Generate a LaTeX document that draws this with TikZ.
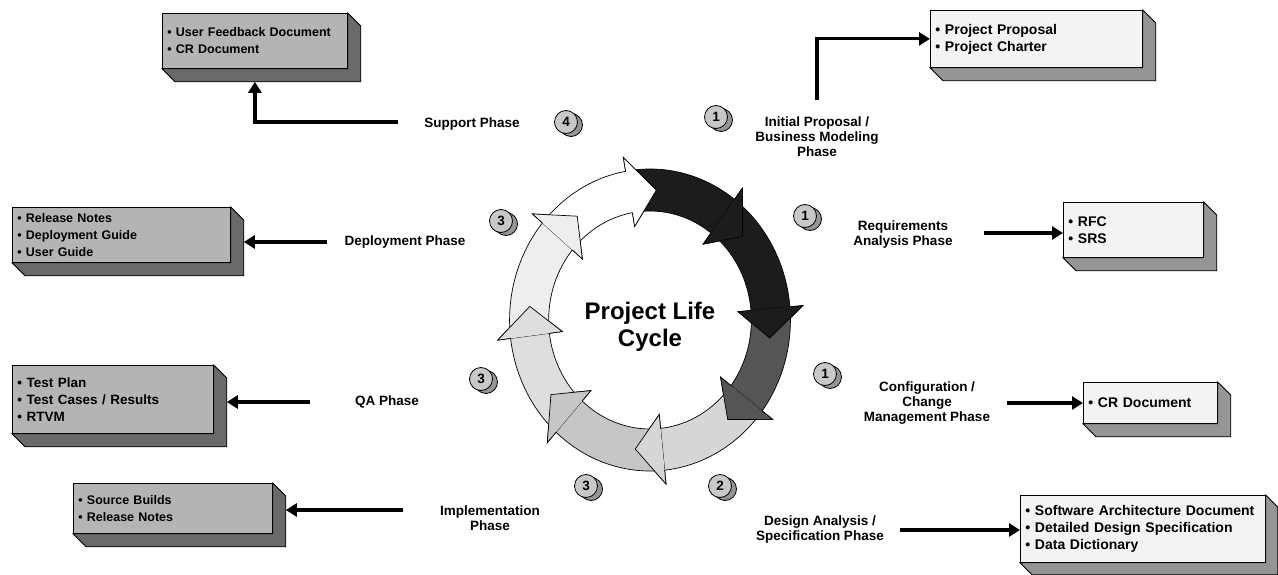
\documentclass[tikz,border=0pt]{standalone}
\usepackage{fontspec}
\setmainfont{Liberation Sans}
\usetikzlibrary{arrows.meta,calc}
\definecolor{boxdark}{HTML}{B4B4B4}
\definecolor{sidedark}{HTML}{6A6A6A}
\definecolor{boxlight}{HTML}{F3F3F3}
\definecolor{sidelight}{HTML}{959595}
\definecolor{ringA}{HTML}{1C1C1C}
\definecolor{ringB}{HTML}{555555}
\definecolor{ringC}{HTML}{D6D6D6}
\definecolor{ringD}{HTML}{C6C6C6}
\definecolor{ringE}{HTML}{DEDEDE}
\definecolor{ringF}{HTML}{EEEEEE}
\definecolor{coinfront}{HTML}{C8C8C8}
\definecolor{coinback}{HTML}{959595}
\newcommand\Extrude[3]{%
  \filldraw[fill=#2,draw=black,line width=0.8pt] (#1.south west) -- (#1.south east) -- (#1.north east)
    -- ++(#3pt,-#3pt) -- ($(#1.south east)+(#3pt,-#3pt)$) -- ($(#1.south west)+(#3pt,-#3pt)$) -- cycle;
  \coordinate (#1-side) at ($(#1.east)+(#3pt,0)$);
  \coordinate (#1-bot) at ($(#1.south)+(0,-#3pt)$);}
\newcommand\RArrow[4]{%
  \filldraw[fill=#4,draw=black,line width=0.7pt] (#1:151pt) arc[start angle=#1,end angle=#2,radius=151pt]
    -- (#2:165pt) -- (#3:130pt) -- (#2:95pt) -- (#2:109pt) arc[start angle=#2,end angle=#1,radius=109pt] -- cycle;}
\newcommand\RHead[3]{%
  \fill[#3] (#1:151pt) -- (#1:165pt) -- (#2:130pt) -- (#1:95pt) -- (#1:109pt) -- cycle;
  \draw[line width=0.7pt] (#1:151pt) -- (#1:165pt) -- (#2:130pt) -- (#1:95pt) -- (#1:109pt);}
\newcommand\Coin[4]{%
  \path (#2,#3) ++(5pt,-3pt) node[coinb] {};
  \node[coinf] (#1) at (#2,#3) {#4};}
\begin{document}
\begin{tikzpicture}[x=1pt,y=-1pt,
  lbl/.style={font=\bfseries\fontsize{13.5}{15}\selectfont, align=center, inner sep=0pt},
  dbox/.style={draw=black, line width=0.8pt, anchor=north west, inner xsep=5pt, inner ysep=0pt, align=left},
  dark/.style={dbox, fill=boxdark, font=\bfseries\fontsize{12.5}{17}\selectfont},
  light/.style={dbox, fill=boxlight, font=\bfseries\fontsize{14}{17}\selectfont},
  conn/.style={line width=3.2pt, -{Triangle[length=11pt,width=13pt]}},
  coinf/.style={circle, draw=black, line width=0.8pt, fill=coinfront, minimum size=23pt, inner sep=0pt, font=\bfseries\fontsize{13.5}{13.5}\selectfont},
  coinb/.style={circle, draw=black, line width=0.8pt, fill=coinback, minimum size=23pt, inner sep=0pt}]
\useasboundingbox (0,0) rectangle (1278,575);
\fill[white] (0,0) rectangle (1278,575);

% ---------- ring ----------
\begin{scope}[shift={(650,320)}, xscale=0.93]
  \RArrow{100}{53}{40}{ringA}
  \RArrow{53}{5}{-8}{ringA}
  \RArrow{5}{-37}{-50}{ringB}
  \RArrow{-37}{-84}{-97}{ringC}
  \RArrow{-84}{-132}{-145}{ringD}
  \RArrow{-132}{-173}{-186}{ringE}
  \RArrow{-173}{-220}{-233}{ringF}
  \RArrow{-220}{-260}{-273}{white}
  \RHead{53}{40}{ringA}
  \RHead{5}{-8}{ringA}
  \RHead{-37}{-50}{ringB}
  \RHead{-84}{-97}{ringC}
  \RHead{-132}{-145}{ringD}
  \RHead{-173}{-186}{ringE}
  \RHead{-220}{-233}{ringF}
  \RHead{-260}{-273}{white}
\end{scope}
\node[font=\bfseries\fontsize{24}{27}\selectfont, align=center] (plc) at (650,327) {Project Life\\Cycle};

% ---------- boxes ----------
\node[dark, text width=175pt, minimum height=55pt] (fb) at (162,13) {• User Feedback Document\\• CR Document};
\Extrude{fb}{sidedark}{13}
\node[light, text width=202pt, minimum height=57pt] (pp) at (930,10) {• Project Proposal\\• Project Charter};
\Extrude{pp}{sidelight}{13}
\node[light, text width=130pt, minimum height=55pt] (rfc) at (1063,202) {• RFC\\• SRS};
\Extrude{rfc}{sidelight}{13}
\node[light, text width=124pt, minimum height=41pt] (cr) at (1083,382) {• CR Document};
\Extrude{cr}{sidelight}{13}
\node[light, text width=235pt, minimum height=67pt] (design) at (1020,495) {• Software Architecture Document\\• Detailed Design Specification\\• Data Dictionary};
\Extrude{design}{sidelight}{12}
\node[dark, text width=208pt, minimum height=55pt] (rel) at (12,207) {• Release Notes\\• Deployment Guide\\• User Guide};
\Extrude{rel}{sidedark}{13}
\node[dark, text width=191pt, minimum height=68pt, font=\bfseries\fontsize{13.5}{17}\selectfont] (test) at (12,365) {• Test Plan\\• Test Cases / Results\\• RTVM};
\Extrude{test}{sidedark}{13}
\node[dark, text width=189pt, minimum height=50pt] (src) at (73,483) {• Source Builds\\• Release Notes};
\Extrude{src}{sidedark}{13}

% ---------- phase labels ----------
\node[lbl] (sp) at (472,124) {Support Phase};
\node[lbl] (ip) at (817,137) {Initial Proposal /\\Business Modeling\\Phase};
\node[lbl] (rq) at (903,235) {Requirements\\Analysis Phase};
\node[lbl] (cm) at (927,403) {Configuration /\\Change\\Management Phase};
\node[lbl] (da) at (820,530) {Design Analysis /\\Specification Phase};
\node[lbl] (im) at (490,518) {Implementation\\Phase};
\node[lbl] (qa) at (387,402) {QA Phase};
\node[lbl] (dp) at (405,242) {Deployment Phase};

% ---------- coins ----------
\Coin{c4}{566}{122}{4}
\Coin{c1a}{716}{117}{1}
\Coin{c1b}{805}{216}{1}
\Coin{c1c}{825}{374}{1}
\Coin{c2}{720}{486}{2}
\Coin{c3a}{586}{486}{3}
\Coin{c3b}{481}{379}{3}
\Coin{c3c}{501}{221}{3}

% ---------- connectors ----------
\coordinate (sp-s) at (398,122);
\coordinate (ip-s) at (817,100);
\coordinate (rq-s) at (984,233);
\coordinate (cm-s) at (1007,403);
\coordinate (da-s) at (900,530);
\coordinate (dp-s) at (327,242);
\coordinate (qa-s) at (310,402);
\coordinate (im-s) at (403,510);
\draw[conn] (sp-s) -| (fb-bot);
\draw[conn] (ip-s) |- (pp.west);
\draw[conn] (rq-s) -- (rq-s -| rfc.west);
\draw[conn] (cm-s) -- (cm-s -| cr.west);
\draw[conn] (da-s) -- (da-s -| design.west);
\draw[conn] (dp-s) -- (dp-s -| rel-side);
\draw[conn] (qa-s) -- (qa-s -| test-side);
\draw[conn] (im-s) -- (im-s -| src-side);
\end{tikzpicture}
\end{document}
